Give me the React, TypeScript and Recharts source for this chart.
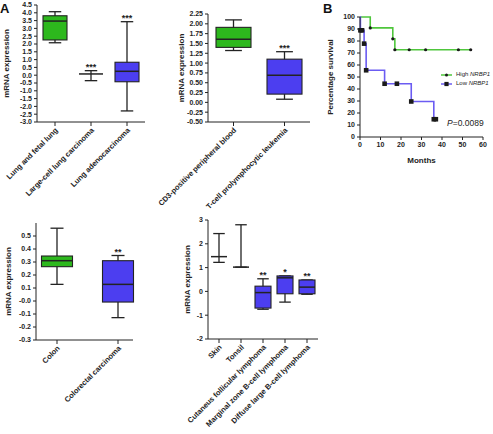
import React from 'react';
import { ComposedChart, LineChart, Bar, Line, XAxis, YAxis, LabelList, Legend } from 'recharts';

const FONT = '"Liberation Sans", Arial, sans-serif';
const GREEN = '#2db81d';
const BLUE = '#4c3ef0';
const LINE_GREEN = '#4fc63c';
const LINE_BLUE = '#6b5cf2';
const INK = '#232323';

// A, lung
const lungNames = ['Lung and fetal lung', 'Large-cell lung carcinoma', 'Lung adenocarcinoma'];
const lungGroup = ['normal', 'tumour', 'tumour'];
const lungMin = [2.08, -0.35, -2.29];
const lungQ1 = [2.26, 0.08, -0.42];
const lungMed = [3.47, 0.08, 0.25];
const lungQ3 = [3.81, 0.08, 0.83];
const lungMax = [4.07, 0.29, 3.43];
const lungSig = ['', '***', '***'];
const lungTicks = [-3, -2.5, -2, -1.5, -1, -0.5, 0, 0.5, 1, 1.5, 2, 2.5, 3, 3.5, 4, 4.5];
const lungTickLabels = ['-3.0', '-2.5', '-2.0', '-1.5', '-1.0', '-0.5', '0.0', '0.5', '1.0', '1.5', '2.0', '2.5', '3.0', '3.5', '4.0', '4.5'];

// A, blood
const bloodNames = ['CD3-positive peripheral blood', 'T-cell prolymphocytic leukemia'];
const bloodGroup = ['normal', 'tumour'];
const bloodMin = [1.32, 0.08];
const bloodQ1 = [1.4, 0.21];
const bloodMed = [1.61, 0.69];
const bloodQ3 = [1.91, 1.1];
const bloodMax = [2.1, 1.29];
const bloodSig = ['', '***'];
const bloodTicks = [-0.5, -0.25, 0, 0.25, 0.5, 0.75, 1, 1.25, 1.5, 1.75, 2, 2.25];
const bloodTickLabels = ['-0.50', '-0.25', '0.00', '0.25', '0.50', '0.75', '1.00', '1.25', '1.50', '1.75', '2.00', '2.25'];

// A, colon
const colonNames = ['Colon', 'Colorectal carcinoma'];
const colonGroup = ['normal', 'tumour'];
const colonMin = [0.128, -0.128];
const colonQ1 = [0.264, -0.008];
const colonMed = [0.31, 0.128];
const colonQ3 = [0.346, 0.31];
const colonMax = [0.56, 0.35];
const colonSig = ['', '**'];
const colonTicks = [-0.3, -0.2, -0.1, 0, 0.1, 0.2, 0.3, 0.4, 0.5];
const colonTickLabels = ['-0.3', '-0.2', '-0.1', '-0.0', '0.1', '0.2', '0.3', '0.4', '0.5'];

// A, lymphoma
const lymphNames = ['Skin', 'Tonsil', 'Cutaneus follicular lymphoma', 'Marginal zone B-cell lymphoma', 'Diffuse large B-cell lymphoma'];
const lymphGroup = ['normal', 'normal', 'tumour', 'tumour', 'tumour'];
const lymphMin = [1.22, 1.02, -0.75, -0.45, -0.12];
const lymphQ1 = [1.46, 1.02, -0.7, -0.1, -0.1];
const lymphMed = [1.46, 1.02, -0.05, 0.57, 0.18];
const lymphQ3 = [1.46, 1.02, 0.22, 0.65, 0.48];
const lymphMax = [2.43, 2.8, 0.53, 0.65, 0.48];
const lymphSig = ['', '', '**', '*', '**'];
const lymphTicks = [-2, -1, 0, 1, 2, 3];
const lymphTickLabels = ['-2', '-1', '0', '1', '2', '3'];

// B, survival
const highMonths = [0, 5, 16, 17, 24, 32, 48, 54];
const highSurv = [100, 90.9, 81.8, 72.7, 72.7, 72.7, 72.7, 72.7];
const lowMonths = [0, 0.2, 1, 2, 3, 12, 18, 25, 36, 37];
const lowSurv = [100, 88.9, 88.9, 77.8, 55.6, 44.4, 44.4, 29.6, 14.8, 14.8];
const monthTicks = [0, 10, 20, 30, 40, 50, 60];
const survTicks = [0, 10, 20, 30, 40, 50, 60, 70, 80, 90, 100];

const buildRows = (names: string[], group: string[], min: number[], q1: number[], med: number[], q3: number[], max: number[], sig: string[]) =>
  names.map((name, i) => ({ name, group: group[i], min: min[i], q1: q1[i], median: med[i], q3: q3[i], max: max[i], sig: sig[i] }));

const lungRows = buildRows(lungNames, lungGroup, lungMin, lungQ1, lungMed, lungQ3, lungMax, lungSig);
const bloodRows = buildRows(bloodNames, bloodGroup, bloodMin, bloodQ1, bloodMed, bloodQ3, bloodMax, bloodSig);
const colonRows = buildRows(colonNames, colonGroup, colonMin, colonQ1, colonMed, colonQ3, colonMax, colonSig);
const lymphRows = buildRows(lymphNames, lymphGroup, lymphMin, lymphQ1, lymphMed, lymphQ3, lymphMax, lymphSig);

const highData = highMonths.map((month, i) => ({ month, surv: highSurv[i] }));
const lowData = lowMonths.map((month, i) => ({ month, surv: lowSurv[i] }));

const rangeKey = (d: any) => [d.min, d.max];

const BoxShape = (props: any) => {
  const { x, y, width, height, payload, capRatio } = props;
  if (x == null || !payload) return <g />;
  const top = Math.min(y, y + height);
  const h = Math.abs(height);
  const py = (v: number) => top + (h * (payload.max - v)) / (payload.max - payload.min);
  const cx = x + width / 2;
  const cap = (width * capRatio) / 2;
  const flat = payload.q1 === payload.q3;
  const fill = payload.group === 'normal' ? GREEN : BLUE;
  return (
    <g stroke={INK} strokeWidth={1.3} fill="none">
      <line x1={cx} x2={cx} y1={py(payload.max)} y2={py(payload.min)} />
      <line x1={cx - cap} x2={cx + cap} y1={py(payload.max)} y2={py(payload.max)} />
      <line x1={cx - cap} x2={cx + cap} y1={py(payload.min)} y2={py(payload.min)} />
      {flat ? (
        <line x1={x} x2={x + width} y1={py(payload.median)} y2={py(payload.median)} strokeWidth={1.5} />
      ) : (
        <>
          <rect x={x} y={py(payload.q3)} width={width} height={py(payload.q1) - py(payload.q3)} fill={fill} strokeWidth={1.1} />
          <line x1={x} x2={x + width} y1={py(payload.median)} y2={py(payload.median)} strokeWidth={1.5} />
        </>
      )}
    </g>
  );
};

const SigLabel = (props: any) => {
  const vb = props.viewBox && props.viewBox.x != null ? props.viewBox : props;
  const { x, y, width, height } = vb;
  if (!props.value || x == null) return <g />;
  const top = Math.min(y, y + (height || 0));
  return (
    <text x={x + width / 2} y={top - 1} textAnchor="middle" fontSize={9} fontWeight="bold" fill={INK} fontFamily={FONT}>
      {props.value}
    </text>
  );
};

const SlantTick = (props: any) => {
  const { x, y, payload } = props;
  const ax = x + 1.5;
  const ay = y + 1;
  return (
    <text
      x={ax}
      y={ay}
      dy="0.35em"
      textAnchor="end"
      transform={`rotate(-45 ${ax} ${ay})`}
      fontSize={7.5}
      fontWeight="bold"
      fill={INK}
      fontFamily={FONT}
    >
      {payload.value}
    </text>
  );
};

const tickStyle = { fontSize: 7, fontWeight: 'bold', fill: INK, fontFamily: FONT };
const axisLabelStyle = { fontSize: 8, fontWeight: 'bold', fill: INK, fontFamily: FONT, textAnchor: 'middle' };

type BoxPanelProps = {
  rows: any[];
  ticks: number[];
  tickLabels: string[];
  domain: [number, number];
  left: number;
  top: number;
  width: number;
  height: number;
  margin: { top: number; right: number; left: number; bottom: number };
  yAxisWidth: number;
  xAxisHeight: number;
  labelOffset: number;
  barSize: number;
  capRatio: number;
  padding?: { left: number; right: number };
};

function BoxPanel(p: BoxPanelProps) {
  return (
    <div style={{ position: 'absolute', left: p.left, top: p.top }}>
      <ComposedChart width={p.width} height={p.height} data={p.rows} margin={p.margin}>
        <XAxis
          dataKey="name"
          type="category"
          height={p.xAxisHeight}
          interval={0}
          tick={<SlantTick />}
          tickSize={4}
          stroke={INK}
          padding={p.padding ?? { left: 0, right: 0 }}
        />
        <YAxis
          type="number"
          domain={p.domain}
          ticks={p.ticks}
          interval={0}
          width={p.yAxisWidth}
          tickSize={3}
          tickMargin={2}
          stroke={INK}
          tick={tickStyle}
          tickFormatter={(v: number) => p.tickLabels[p.ticks.indexOf(v)] ?? String(v)}
          allowDataOverflow
          label={{ value: 'mRNA expression', angle: -90, position: 'insideLeft', offset: p.labelOffset, style: axisLabelStyle }}
        />
        <Bar
          dataKey={rangeKey}
          barSize={p.barSize}
          isAnimationActive={false}
          shape={(s: any) => <BoxShape {...s} capRatio={p.capRatio} />}
        >
          <LabelList dataKey="sig" content={SigLabel} />
        </Bar>
      </ComposedChart>
    </div>
  );
}

const HighDot = (props: any) => {
  const { cx, cy, index } = props;
  if (index === 0 || cx == null) return <g key={`h${index}`} />;
  return <circle key={`h${index}`} cx={cx} cy={cy} r={1.6} fill="#1a1a1a" />;
};

const LowDot = (props: any) => {
  const { cx, cy, index } = props;
  if (index === 0 || cx == null) return <g key={`l${index}`} />;
  return <rect key={`l${index}`} x={cx - 2.3} y={cy - 2.3} width={4.6} height={4.6} fill="#1a1a1a" />;
};

const SurvivalLegend = (props: any) => {
  const items = props.payload || [];
  return (
    <div style={{ fontFamily: FONT, fontSize: 6, color: INK, lineHeight: '9.3px' }}>
      {items.map((entry: any) => (
        <div key={entry.value} style={{ display: 'flex', alignItems: 'center', whiteSpace: 'nowrap', height: 9.3 }}>
          <svg width={11} height={8} style={{ marginRight: 4, flex: 'none' }}>
            <line x1={0} x2={11} y1={4} y2={4} stroke={entry.color} strokeWidth={1.5} />
            {entry.value === 'High' ? (
              <circle cx={5.5} cy={4} r={1.5} fill="#1a1a1a" />
            ) : (
              <rect x={3.4} y={1.9} width={4.2} height={4.2} fill="#1a1a1a" />
            )}
          </svg>
          <span>
            {entry.value} <i>NRBP1</i>
          </span>
        </div>
      ))}
    </div>
  );
};

export default function App() {
  return (
    <div style={{ position: 'absolute', left: 0, top: 0, width: 493, height: 434, background: '#fff', fontFamily: FONT, overflow: 'hidden' }}>
      <div style={{ position: 'absolute', left: 0, top: 1, fontSize: 13, fontWeight: 'bold', color: '#111' }}>A</div>
      <div style={{ position: 'absolute', left: 323, top: 1, fontSize: 13, fontWeight: 'bold', color: '#111' }}>B</div>

      <BoxPanel
        rows={lungRows}
        ticks={lungTicks}
        tickLabels={lungTickLabels}
        domain={[-3, 4.5]}
        left={0}
        top={0}
        width={160}
        height={220}
        margin={{ top: 5, right: 15, left: 0, bottom: 0 }}
        yAxisWidth={37}
        xAxisHeight={98}
        labelOffset={6}
        barSize={24}
        capRatio={0.52}
      />

      <BoxPanel
        rows={bloodRows}
        ticks={bloodTicks}
        tickLabels={bloodTickLabels}
        domain={[-0.5, 2.25]}
        left={150}
        top={0}
        width={175}
        height={220}
        margin={{ top: 14, right: 15, left: 20, bottom: 0 }}
        yAxisWidth={38}
        xAxisHeight={98}
        labelOffset={11}
        barSize={35}
        capRatio={0.48}
      />

      <BoxPanel
        rows={colonRows}
        ticks={colonTicks}
        tickLabels={colonTickLabels}
        domain={[-0.3, 0.6]}
        left={0}
        top={215}
        width={160}
        height={219}
        margin={{ top: 8, right: 27, left: 0, bottom: 0 }}
        yAxisWidth={36}
        xAxisHeight={94}
        labelOffset={8}
        barSize={31}
        capRatio={0.42}
        padding={{ left: -9.5, right: -15.5 }}
      />

      <BoxPanel
        rows={lymphRows}
        ticks={lymphTicks}
        tickLabels={lymphTickLabels}
        domain={[-2, 3]}
        left={150}
        top={215}
        width={180}
        height={219}
        margin={{ top: 5, right: 12, left: 20, bottom: 0 }}
        yAxisWidth={38}
        xAxisHeight={95}
        labelOffset={17}
        barSize={16}
        capRatio={0.72}
      />

      <div style={{ position: 'absolute', left: 320, top: 0 }}>
        <LineChart width={173} height={170} margin={{ top: 17, right: 10, left: 0, bottom: 0 }}>
          <XAxis
            type="number"
            dataKey="month"
            domain={[0, 60]}
            ticks={monthTicks}
            interval={0}
            height={33}
            tickSize={3}
            stroke={INK}
            tick={tickStyle}
            label={{ value: 'Months', position: 'insideBottom', offset: 7, style: axisLabelStyle }}
          />
          <YAxis
            type="number"
            dataKey="surv"
            domain={[0, 100]}
            ticks={survTicks}
            interval={0}
            width={40}
            tickSize={3}
            tickMargin={2}
            stroke={INK}
            tick={tickStyle}
            label={{ value: 'Percentage survival', angle: -90, position: 'insideLeft', offset: 10, style: axisLabelStyle }}
          />
          <Line
            name="High"
            data={highData}
            dataKey="surv"
            type="stepAfter"
            stroke={LINE_GREEN}
            strokeWidth={1.6}
            dot={HighDot}
            activeDot={false}
            isAnimationActive={false}
          />
          <Line
            name="Low"
            data={lowData}
            dataKey="surv"
            type="stepAfter"
            stroke={LINE_BLUE}
            strokeWidth={1.6}
            dot={LowDot}
            activeDot={false}
            isAnimationActive={false}
          />
          <Legend
            layout="vertical"
            align="center"
            verticalAlign="middle"
            content={SurvivalLegend}
            wrapperStyle={{ left: 121, top: 70, width: 50 }}
          />
        </LineChart>
        <div style={{ position: 'absolute', left: 127, top: 118, fontSize: 8.5, color: INK, whiteSpace: 'nowrap' }}>
          <i>P</i>=0.0089
        </div>
      </div>
    </div>
  );
}
